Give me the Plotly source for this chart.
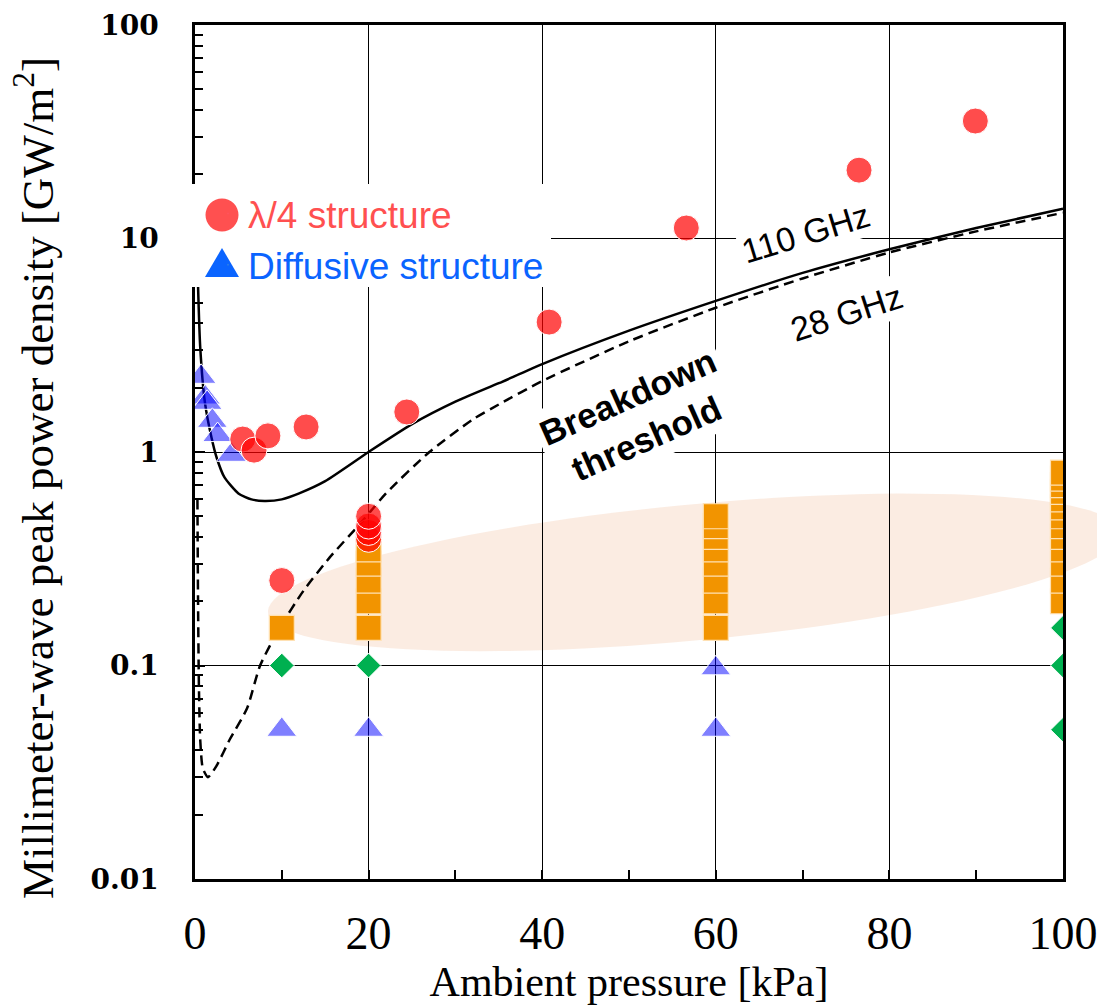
import numpy as np
import plotly.graph_objects as go

# ---------------- data ----------------
# Breakdown threshold curves
curve110_x = [0.35, 0.6, 1.15, 1.9, 2.5, 3.4, 5.0, 6.5, 8.0, 10, 12, 15, 20, 25, 30, 35, 40, 50, 60, 70, 80, 90, 100]
curve110_y = [6.0, 3.1, 1.7, 1.17, 0.94, 0.76, 0.64, 0.6, 0.59, 0.6, 0.64, 0.73, 1.0, 1.35, 1.72, 2.1, 2.58, 3.7, 5.1, 6.9, 8.9, 11.2, 13.8]

curve28_x = [0.28, 0.35, 0.45, 0.6, 0.9, 1.5, 2.5, 4.0, 6.0, 7.5, 9.8, 12.5, 15.5, 19, 22, 27, 32, 35, 40, 50, 60, 70, 80, 90, 100]
curve28_y = [0.6, 0.2, 0.08, 0.045, 0.033, 0.030, 0.034, 0.045, 0.063, 0.1, 0.151, 0.224, 0.32, 0.46, 0.64, 1.0, 1.42, 1.67, 2.15, 3.3, 4.74, 6.5, 8.6, 10.8, 13.2]

# lambda/4 structure (red circles)
quarter_x = [10, 20, 20, 20, 20, 5.5, 6.8, 8.4, 12.8, 24.4, 40.8, 56.6, 76.5, 89.9]
quarter_y = [0.25, 0.39, 0.42, 0.45, 0.5, 1.15, 1.02, 1.19, 1.31, 1.54, 4.06, 11.2, 20.9, 35.5]

# Diffusive structure (blue triangles)
diffusive_x = [0.7, 1.2, 1.4, 2.0, 2.6, 4.2, 10, 20, 60, 60]
diffusive_y = [2.25, 1.8, 1.7, 1.4, 1.2, 0.97, 0.05, 0.05, 0.097, 0.05]

# Orange squares
square_x = [10,
            20, 20, 20, 20, 20,
            60, 60, 60, 60, 60, 60, 60, 60,
            100, 100, 100, 100, 100, 100, 100, 100, 100, 100, 100, 100, 100]
square_y = [0.15,
            0.15, 0.2, 0.25, 0.3, 0.35,
            0.15, 0.2, 0.25, 0.3, 0.35, 0.4, 0.45, 0.5,
            0.2, 0.25, 0.3, 0.35, 0.4, 0.45, 0.5, 0.55, 0.6, 0.65, 0.7, 0.75, 0.8]

# Green diamonds
diamond_x = [10, 20, 100, 100, 100]
diamond_y = [0.1, 0.1, 0.15, 0.1, 0.05]

x_ticks = [0, 20, 40, 60, 80, 100]
y_tickvals = [0.01, 0.1, 1, 10, 100]
y_ticktext = ["0.01", "0.1", "1", "10", "100"]

# ---------------- figure ----------------
W, H = 1097, 1008
ML, MR, MT, MB = 195, 34, 25, 129
PW, PH = W - ML - MR, H - MT - MB


def pxx(p):  # page pixel x -> paper x
    return (p - ML) / PW


def pxy(p):  # page pixel y -> paper y
    return (H - MB - p) / PH


fig = go.Figure()

fig.add_trace(go.Scatter(x=curve110_x, y=curve110_y, mode="lines", line=dict(color="black", width=2.5, shape="spline", smoothing=0.6),
                         showlegend=False, hoverinfo="skip"))
fig.add_trace(go.Scatter(x=curve28_x, y=curve28_y, mode="lines", line=dict(color="black", width=2.5, dash="10px,6px", shape="spline", smoothing=0.6),
                         showlegend=False, hoverinfo="skip"))

fig.add_trace(go.Scatter(x=square_x, y=square_y, mode="markers", showlegend=False,
                         marker=dict(symbol="square", size=25, color="rgb(242,148,0)", line=dict(color="rgb(255,225,180)", width=1.2))))
fig.add_trace(go.Scatter(x=diamond_x, y=diamond_y, mode="markers", showlegend=False,
                         marker=dict(symbol="diamond", size=19, color="rgb(0,176,80)", line=dict(color="white", width=1))))
fig.add_trace(go.Scatter(x=diffusive_x, y=diffusive_y, mode="markers", showlegend=False,
                         marker=dict(symbol="triangle-up", size=26, color="rgba(0,0,255,0.5)", line=dict(color="white", width=1))))
fig.add_trace(go.Scatter(x=quarter_x, y=quarter_y, mode="markers", showlegend=False,
                         marker=dict(symbol="circle", size=26, color="rgba(255,0,0,0.7)", line=dict(color="white", width=1))))

# legend entries (text from legend, big symbols drawn as shapes)
RED_TXT = "#ff5050"
BLUE_TXT = "#0a64ff"
fig.add_trace(go.Scatter(x=[None], y=[None], mode="markers", marker=dict(opacity=0, size=1),
                         name=f"<span style='color:{RED_TXT}'>λ/4 structure</span>"))
fig.add_trace(go.Scatter(x=[None], y=[None], mode="markers", marker=dict(opacity=0, size=1),
                         name=f"<span style='color:{BLUE_TXT}'>Diffusive structure</span>"))

# white box behind the legend (hides axis & grid like the original)
fig.add_shape(type="rect", xref="paper", yref="paper", layer="above",
              x0=pxx(186), x1=pxx(551), y0=pxy(287), y1=pxy(184),
              fillcolor="white", line=dict(width=0))
# legend symbols
fig.add_shape(type="circle", xref="paper", yref="paper", layer="above",
              x0=pxx(222 - 16.5), x1=pxx(222 + 16.5), y0=pxy(215 + 16.5), y1=pxy(215 - 16.5),
              fillcolor=RED_TXT, line=dict(width=0))
tri = [(222 - 17, 277), (222 + 17, 277), (222, 248)]
tri_path = "M " + " L ".join(f"{pxx(a):.5f},{pxy(b):.5f}" for a, b in tri) + " Z"
fig.add_shape(type="path", path=tri_path, xref="paper", yref="paper", layer="above",
              fillcolor=BLUE_TXT, line=dict(width=0))

# shaded ellipse (pixel-space geometry converted to paper coordinates)
ell_cx, ell_cy = 57.5, 0.273       # centre in data units (kPa, GW/m2)
ell_a_px, ell_b_px, ell_ang = 428, 68, np.deg2rad(5.4)
cxp = ell_cx / 100 * PW
cyp = (np.log10(ell_cy) + 2) / 4 * PH
t = np.linspace(0, 2 * np.pi, 120)
ex = ell_a_px * np.cos(t)
ey = ell_b_px * np.sin(t)
rx = ex * np.cos(ell_ang) - ey * np.sin(ell_ang) + cxp
ry = ex * np.sin(ell_ang) + ey * np.cos(ell_ang) + cyp
path = "M " + " L ".join(f"{a / PW:.5f},{b / PH:.5f}" for a, b in zip(rx, ry)) + " Z"
fig.add_shape(type="path", path=path, xref="paper", yref="paper", layer="below",
              fillcolor="rgba(240,180,140,0.25)", line=dict(width=0))

# annotations
fig.add_annotation(x=70.4, y=np.log10(10.6), xref="x", yref="y", text="110 GHz", showarrow=False,
                   textangle=-17, font=dict(family="Liberation Sans, Arial", size=34, color="black"),
                   bgcolor="white", borderpad=2)
fig.add_annotation(x=75.0, y=0.651, xref="x", yref="y", text="28 GHz", showarrow=False,
                   textangle=-18, font=dict(family="Liberation Sans, Arial", size=34, color="black"),
                   bgcolor="white", borderpad=2)
fig.add_annotation(x=51.0, y=0.16, xref="x", yref="y", text="<b>Breakdown<br>threshold</b>", showarrow=False,
                   textangle=-24, font=dict(family="Liberation Sans, Arial", size=35, color="black"),
                   bgcolor="white", borderpad=4)

# y-axis title as rotated text
fig.add_annotation(x=pxx(34), y=pxy(478), xref="paper", yref="paper", showarrow=False,
                   xanchor="center", yanchor="middle",
                   text="Millimeter-wave peak power density [GW/m<sup>2</sup>]", textangle=-90,
                   font=dict(family="Liberation Serif, Times New Roman", size=45, color="black"))

fig.update_layout(
    width=W, height=H,
    margin=dict(l=ML, r=MR, t=MT, b=MB, autoexpand=False),
    paper_bgcolor="white", plot_bgcolor="rgba(0,0,0,0)",
    showlegend=True,
    legend=dict(x=pxx(208), y=pxy(183), xanchor="left", yanchor="top", bgcolor="rgba(0,0,0,0)",
                font=dict(family="Liberation Sans, Arial", size=37), itemwidth=30,
                tracegroupgap=0),
)

fig.update_xaxes(
    range=[0, 100], tickvals=x_ticks, ticks="inside", ticklen=9, tickwidth=2, tickcolor="black",
    showline=True, linecolor="black", linewidth=2.5, mirror=True, automargin=False,
    showgrid=True, gridcolor="black", gridwidth=1, zeroline=False,
    minor=dict(dtick=10, ticks="inside", ticklen=9, tickwidth=2, tickcolor="black", showgrid=False),
    tickfont=dict(family="Liberation Serif, Times New Roman", size=46, color="black"),
    ticklabelstandoff=12, ticklabeloverflow="allow",
    title=dict(text="Ambient pressure [kPa]", font=dict(family="Liberation Serif, Times New Roman", size=42, color="black"), standoff=6),
)
fig.update_yaxes(
    type="log", range=[-2, 2], tickvals=y_tickvals, ticktext=y_ticktext,
    ticks="inside", ticklen=10, tickwidth=2, tickcolor="black",
    showline=True, linecolor="black", linewidth=2.5, mirror=True, automargin=False,
    showgrid=True, gridcolor="black", gridwidth=1, zeroline=False,
    minor=dict(dtick="D1", ticks="inside", ticklen=8, tickwidth=2, tickcolor="black", showgrid=False),
    tickfont=dict(family="DejaVu Serif", size=28, color="black", weight="bold"),
    ticklabelstandoff=28,
)

fig.write_html("out.html")
